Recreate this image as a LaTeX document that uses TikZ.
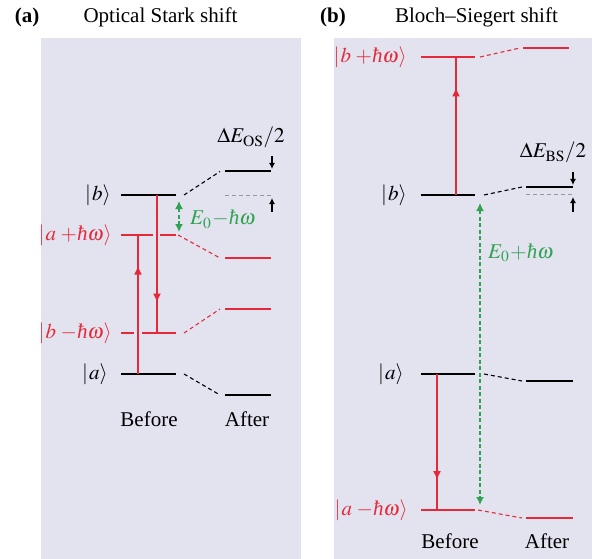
\documentclass[tikz,border=0pt]{standalone}
\usepackage{mathptmx}
\usepackage{fontspec}
\setmainfont{Liberation Serif}
\usetikzlibrary{arrows.meta,decorations.markings}
\definecolor{bgc}{RGB}{227,226,239}
\definecolor{redc}{RGB}{228,42,58}
\definecolor{greenc}{RGB}{48,163,82}
\definecolor{grayc}{RGB}{150,150,162}
\newcommand{\hb}{\mbox{\itshape ħ}}
\begin{document}
\begin{tikzpicture}[x=1pt,y=-1pt,
  lvl/.style={line width=2pt},
  conn/.style={line width=1.1pt,dash pattern=on 4pt off 3pt},
  ghost/.style={line width=1pt,grayc,dash pattern=on 4pt off 3pt},
  txt/.style={font=\fontsize{21}{25}\selectfont,inner sep=0pt},
  trans/.style={line width=2.2pt,redc,postaction={decorate},
    decoration={markings,mark=at position 0.78 with {\arrow{Latex[length=9pt,width=8pt]}}}},
  gap/.style={line width=1.5pt,greenc,dash pattern=on 4pt off 2.5pt,
    {Latex[length=8pt,width=8pt]}-{Latex[length=8pt,width=8pt]}},
  tick/.style={line width=1.2pt,-{Latex[length=6pt,width=6pt]}}
]
\useasboundingbox (0,0) rectangle (592,559);
\fill[bgc] (41,38) rectangle (301,559);
\fill[bgc] (334,38) rectangle (592,559);

% titles
\node[txt,font=\fontsize{21}{25}\selectfont\bfseries,anchor=base] (ta) at (27,23) {(a)};
\node[txt,anchor=base] (tat) at (160.5,23) {Optical Stark shift};
\node[txt,font=\fontsize{21}{25}\selectfont\bfseries,anchor=base] (tb) at (333,23) {(b)};
\node[txt,anchor=base] (tbt) at (476.5,23) {Bloch--Siegert shift};

% ---------------- panel (a)
\coordinate (abL) at (121,195);  \coordinate (abR) at (176,195);
\coordinate (aapL) at (121,235); \coordinate (aapR) at (176,235);
\coordinate (abmL) at (121,333); \coordinate (abmR) at (176,333);
\coordinate (aaL) at (121,374);  \coordinate (aaR) at (176,374);

\draw[lvl] (abL) -- (abR);
\draw[lvl,redc] (aapL) -- (153,235) (160,235) -- (aapR);
\draw[lvl,redc] (abmL) -- (134,333) (142,333) -- (abmR);
\draw[lvl] (aaL) -- (aaR);

\node[txt,anchor=east] (labb) at (111,195) {$|\mkern1mu b\rangle$};
\node[txt,anchor=east,text=redc] (labap) at (112,235) {$|\mkern1mu a\;{+}\hb\omega\rangle$};
\node[txt,anchor=east,text=redc] (labbm) at (112,333) {$|\mkern1mu b\;{-}\hb\omega\rangle$};
\node[txt,anchor=east] (laba) at (108,374) {$|\mkern1mu a\rangle$};

% after levels
\coordinate (AbL) at (225,171.5); \coordinate (AbR) at (271,171.5);
\coordinate (AgL) at (225,196);   \coordinate (AgR) at (271,196);
\coordinate (AapL) at (225,258);  \coordinate (AapR) at (271,258);
\coordinate (AbmL) at (225,309);  \coordinate (AbmR) at (271,309);
\coordinate (AaL) at (225,395);   \coordinate (AaR) at (271,395);
\draw[lvl] (AbL) -- (AbR);
\draw[ghost] (AgL) -- (AgR);
\draw[lvl,redc] (AapL) -- (AapR);
\draw[lvl,redc] (AbmL) -- (AbmR);
\draw[lvl] (AaL) -- (AaR);

% connectors
\draw[conn] ([xshift=8pt]abR) -- ([xshift=-5pt]AbL);
\draw[conn,redc] ([xshift=2pt]aapR) -- ([xshift=-5pt]AapL);
\draw[conn,redc] ([xshift=8pt]abmR) -- ([xshift=-5pt]AbmL);
\draw[conn] ([xshift=8pt]aaR) -- ([xshift=-5pt]AaL);

% transitions
\coordinate (tu1a) at (138,374); \coordinate (tu1b) at (138,235);
\coordinate (td1a) at (157,195); \coordinate (td1b) at (157,333);
\draw[trans] (tu1a) -- (tu1b);
\draw[trans] (td1a) -- (td1b);

% energy gap
\coordinate (g1a) at (179,201); \coordinate (g1b) at (179,232);
\draw[gap] (g1a) -- (g1b);
\node[txt,anchor=base west,text=greenc] (lg1) at (190,225) {$E_0\mkern1mu{-}\hb\omega$};

% shift
\node[txt,anchor=base] (los) at (251,143) {$\Delta E_{\mathrm{OS}}/2$};
\coordinate (s1a) at (272,156); \coordinate (s1b) at (272,169);
\coordinate (s2a) at (272,212); \coordinate (s2b) at (272,198);
\draw[tick] (s1a) -- (s1b);
\draw[tick] (s2a) -- (s2b);

\node[txt,anchor=base] (lbef1) at (149,426) {Before};
\node[txt,anchor=base] (laft1) at (247,426) {After};

% ---------------- panel (b)
\coordinate (bbpL) at (421,57);  \coordinate (bbpR) at (475,57);
\coordinate (bbL) at (421,195);  \coordinate (bbR) at (475,195);
\coordinate (baL) at (421,374);  \coordinate (baR) at (475,374);
\coordinate (bamL) at (421,510); \coordinate (bamR) at (475,510);
\draw[lvl,redc] (bbpL) -- (bbpR);
\draw[lvl] (bbL) -- (bbR);
\draw[lvl] (baL) -- (baR);
\draw[lvl,redc] (bamL) -- (bamR);

\node[txt,anchor=east,text=redc] (lbbp) at (407,57) {$|\mkern1mu b\;{+}\hb\omega\rangle$};
\node[txt,anchor=east] (lbb) at (407,195) {$|\mkern1mu b\rangle$};
\node[txt,anchor=east] (lba) at (404,374) {$|\mkern1mu a\rangle$};
\node[txt,anchor=east,text=redc] (lbam) at (408,510) {$|\mkern1mu a\;{-}\hb\omega\rangle$};

\coordinate (BbpL) at (523,48);  \coordinate (BbpR) at (569,48);
\coordinate (BbL) at (526,187);  \coordinate (BbR) at (573,187);
\coordinate (BgL) at (526,195);  \coordinate (BgR) at (573,195);
\coordinate (BaL) at (526,381);  \coordinate (BaR) at (573,381);
\coordinate (BamL) at (526,518); \coordinate (BamR) at (573,518);
\draw[lvl,redc] (BbpL) -- (BbpR);
\draw[lvl] (BbL) -- (BbR);
\draw[ghost] (BgL) -- (BgR);
\draw[lvl] (BaL) -- (BaR);
\draw[lvl,redc] (BamL) -- (BamR);

\draw[conn,redc] ([xshift=5pt]bbpR) -- ([xshift=-3pt]BbpL);
\draw[conn] ([xshift=9pt]bbR) -- ([xshift=-4pt]BbL);
\draw[conn] ([xshift=9pt]baR) -- ([xshift=-4pt]BaL);
\draw[conn,redc] ([xshift=3pt]bamR) -- ([xshift=-4pt]BamL);

\coordinate (tu2a) at (456,195); \coordinate (tu2b) at (456,57);
\coordinate (td2a) at (437,374); \coordinate (td2b) at (437,510);
\draw[trans] (tu2a) -- (tu2b);
\draw[trans] (td2a) -- (td2b);

\coordinate (g2a) at (480,203); \coordinate (g2b) at (480,505);
\draw[gap] (g2a) -- (g2b);
\node[txt,anchor=base west,text=greenc] (lg2) at (488,258) {$E_0\mkern1mu{+}\hb\omega$};

\node[txt,anchor=base] (lbs) at (553,158) {$\Delta E_{\mathrm{BS}}/2$};
\coordinate (s3a) at (573,172); \coordinate (s3b) at (573,185);
\coordinate (s4a) at (573,212); \coordinate (s4b) at (573,197);
\draw[tick] (s3a) -- (s3b);
\draw[tick] (s4a) -- (s4b);

\node[txt,anchor=base] (lbef2) at (450,548) {Before};
\node[txt,anchor=base] (laft2) at (547,548) {After};
\end{tikzpicture}
\end{document}
